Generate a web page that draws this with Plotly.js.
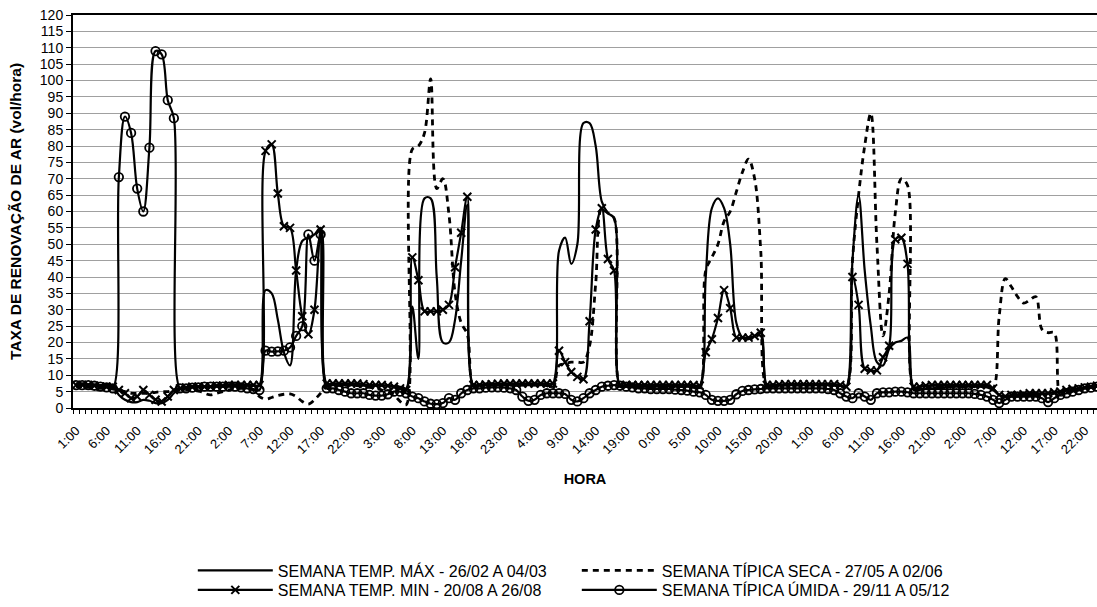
<!DOCTYPE html>
<html>
<head>
<meta charset="utf-8">
<script src="https://cdn.plot.ly/plotly-3.0.1.min.js"></script>
<style>html,body{margin:0;padding:0;background:#fff;}#chart{width:1097px;height:607px;}</style>
</head>
<body>
<div id="chart"></div>
<script>
// Hour-of-week tick labels (every 5 hours, starting at 1:00 of day 1)
const tickLabels = ['1:00','6:00','11:00','16:00','21:00','2:00','7:00','12:00','17:00','22:00',
  '3:00','8:00','13:00','18:00','23:00','4:00','9:00','14:00','19:00','0:00',
  '5:00','10:00','15:00','20:00','1:00','6:00','11:00','16:00','21:00','2:00',
  '7:00','12:00','17:00','22:00'];

const seriesNames = [
  'SEMANA TEMP. MÁX - 26/02 A 04/03',
  'SEMANA TÍPICA SECA - 27/05 A 02/06',
  'SEMANA TEMP. MIN - 20/08 A 26/08',
  'SEMANA TÍPICA ÚMIDA - 29/11 A 05/12'
];

// Hourly values (vol/hora), 7 days x 24 h
const tempMax = [
  7.5,7.5,7.3,7.2,7,7, 6.5,4,2.5,1.8,1.8,2.5, 2.2,1.5,1.5,2.5,4.5,6, 6.3,6.5,6.5,6.5,6.5,6.5,
  6.5,6.6,6.7,6.8,6.8,6.8, 7,36,35,27,17,13, 42,51,52,53,55,7, 7,7,7,7,7,6.8,
  6.8,6.8,6.8,6.8,6.7,6.5, 6,31,15,64,64,40, 20,20,27,45,62,6.5, 7,7,7,7,7,7,
  7,7,7,7,7,7, 6.5,48,52,44,50,87, 87,80,63,59.5,58,6.5, 6.5,6.5,6.5,6.5,6.5,6.5,
  6.5,6.5,6.5,6.5,6.5,6.5, 6.5,40,61,64,61,50, 26,21.5,21,22,22,6.5, 6.5,6.8,7,7,7,7,
  7,7,7,7,7,6.8, 6.5,45,65,42,25,14, 13,18,20,20.5,21.5,5.5, 5.5,5.8,6,6,6.2,6.5,
  6.5,6.5,6.5,6.5,6.5,6.3, 5.5,4,3.5,3.5,3.5,3.8, 4,4,4.2,4.5,4.8,5, 5.3,5.5,5.8,6,6.2,6.5
];
const tipicaSeca = [
  6.5,6.5,6.3,6.2,6,6, 5.8,5.5,5,4.5,4.5,4.5, 4.5,4.8,5,5,5.2,5.5, 5.5,5.5,5.3,4.5,4,4.5,
  5,5.5,5.8,6,6,5.5, 3.5,2.7,3.2,3.8,4.2,4.3, 3.5,2,1.2,2.5,4.5,6.5, 7,7,7,7,6.8,6.5,
  6.3,6,5.5,5,4,2, 1,79,80,84,100.5,67, 70,59,35,26,22.5,6.5, 7,7,7,7,7,7,
  7,7,7,7,7,6.8, 6,13,13.5,14,14,14, 19,38,61,59.5,58,6.5, 6.5,6.5,6.5,6.5,6.5,6.5,
  6.5,6.5,6.5,6.5,6.5,6.3, 6,42,46,50,57,60, 66,72,76,70,48,6.5, 6.8,7,7,7,7,7,
  7,7,7,7,7,6.8, 6.5,45,65,80,90,50, 22,35,59.5,70,68,6, 6,6.2,6.5,6.5,6.5,6.5,
  6.5,6.5,6.5,6.5,6.5,6.5, 6,28,39.5,37,34,32, 33,34,24,23,23,4, 4.5,5,5.5,6,6.2,6.5
];
const tempMin = [
  7,7,7,6.8,6.5,6.5, 6.5,5.5,4.5,3,3.5,5.5, 4,2.5,2,3.5,5.5,6, 6.3,6.5,6.5,6.5,6.5,6.8,
  6.8,7,7,7,7,7, 7,78.5,80.5,65.5,55.5,55, 42,28,22.5,30,54.5,7.5, 7.5,7.5,7.5,7.5,7.5,7.3,
  7,7,7,6.8,6.5,6, 5.5,46,39,29.5,29.5,29.5, 30,31.5,43,53.5,64.5,7, 7,7.2,7.3,7.4,7.5,7.5,
  7.5,7.5,7.5,7.5,7.5,7.5, 7.5,17.5,14,11,9.5,8.8, 26.5,54.5,61,45.5,42,7, 7,7,7,7,7,7,
  7,7,7,7,7,7, 6.8,17,21,27.5,36,30.5, 21.5,21.5,21.5,22,23,7, 7,7.2,7.3,7.3,7.3,7.3,
  7.3,7.3,7.3,7.3,7.3,7, 6.5,40,31.5,12,11.5,11.5, 15.5,19,51.5,52,44,6.5, 6.5,6.8,7,7,7,7,
  7,7,7,7,7,7, 6,4,3.5,4,4,4.2, 4.5,4.5,4.5,4.5,4.8,5, 5.5,5.8,6,6.3,6.5,6.8
];
const tipicaUmida = [
  7,7,7,6.8,6.5,6.3, 6,70.5,89,84,67,60, 79.5,109,108,94,88.5,6, 6,6.2,6.3,6.5,6.5,6.5,
  6.5,6.5,6.5,6.3,6,5.8, 5.5,17.5,17.2,17.3,17.5,18.5, 22,25,53,45,53,6, 6,5.5,5,4.5,4.5,4.5,
  4,3.8,3.8,4.2,5,5, 4.5,3.5,3,2,1.3,1.2, 1.5,3,2.5,4.5,5.5,6, 6,6.2,6.3,6.3,6.2,6,
  5.5,3.5,2.2,2.5,4,4.5, 4.5,4.5,4.3,2.5,2,3, 4.5,5.5,6.5,6.8,7,6.8, 6.5,6.3,6,6,5.8,5.8,
  5.8,5.8,5.6,5.5,5.3,5, 4.8,4,2.5,2.2,2.2,2.5, 4.2,5.2,5.5,5.7,5.8,6, 6,6,6,6,6,6,
  6,6,6,5.8,5.5,4.5, 3.5,3,4.5,3.5,2.5,4.5, 4.8,4.8,5,5,4.8,4.5, 4.5,4.5,4.5,4.5,4.5,4.5,
  4.5,4.5,4.5,4.3,4,3.5, 2.5,1.5,2.5,3.5,3.5,3.5, 3.5,3.5,3,1.8,3,4, 4.5,5,5.5,6,6.2,6.5
];

const hourIndex = tempMax.map((_, i) => i);
const tickPositions = tickLabels.map((_, i) => i * 5);

const FONT = 'Liberation Sans, Arial, sans-serif';

const traces = [
  {x: hourIndex, y: tempMax, name: seriesNames[0], type: 'scatter', mode: 'lines',
   line: {color: '#000', width: 2.2, shape: 'spline', smoothing: 1}, legend: 'legend'},
  {x: hourIndex, y: tipicaSeca, name: seriesNames[1], type: 'scatter', mode: 'lines',
   line: {color: '#000', width: 2.8, dash: '6px,5px', shape: 'spline', smoothing: 1}, legend: 'legend'},
  {x: hourIndex, y: tempMin, name: seriesNames[2], type: 'scatter', mode: 'lines+markers',
   line: {color: '#000', width: 2.2, shape: 'spline', smoothing: 1},
   marker: {symbol: 'x-thin-open', size: 8, color: '#000', line: {color: '#000', width: 2}}, legend: 'legend2'},
  {x: hourIndex, y: tipicaUmida, name: seriesNames[3], type: 'scatter', mode: 'lines+markers',
   line: {color: '#000', width: 2.2, shape: 'spline', smoothing: 1},
   marker: {symbol: 'circle-open', size: 8.5, color: '#000', line: {color: '#000', width: 1.8}}, legend: 'legend2'}
];

const legendCommon = {
  orientation: 'h', xanchor: 'left', yanchor: 'middle', x: 0.117,
  itemwidth: 75, entrywidth: 294, entrywidthmode: 'pixels',
  font: {family: FONT, size: 16, color: '#000'}, bgcolor: 'rgba(0,0,0,0)', borderwidth: 0,
  traceorder: 'normal'
};

const layout = {
  width: 1097, height: 607,
  margin: {l: 73, r: 0, t: 15, b: 198, pad: 0},
  paper_bgcolor: '#fff', plot_bgcolor: '#fff',
  font: {family: FONT, color: '#000'},
  showlegend: true,
  legend: Object.assign({}, legendCommon, {y: -0.410}),
  legend2: Object.assign({}, legendCommon, {y: -0.462}),
  xaxis: {
    range: [-0.5, 167], tickmode: 'array', tickvals: tickPositions, ticktext: tickLabels,
    tickangle: -45, ticks: 'outside', ticklen: 8, tickcolor: 'rgba(0,0,0,0)',
    tickfont: {family: FONT, size: 13, color: '#000'},
    minor: {tickmode: 'linear', tick0: -0.5, dtick: 1, ticks: 'outside', ticklen: 4, tickcolor: '#000', tickwidth: 1, showgrid: false},
    showline: true, linecolor: '#000', linewidth: 2, mirror: true,
    showgrid: false, zeroline: false, fixedrange: true,
    title: {text: 'HORA', font: {family: FONT, size: 14.5, weight: 'bold', color: '#000'}, standoff: 18}
  },
  yaxis: {
    range: [0, 120], tickmode: 'linear', tick0: 0, dtick: 5,
    ticks: 'outside', ticklen: 5, tickcolor: '#000', tickwidth: 1,
    tickfont: {family: FONT, size: 14, color: '#000'},
    showline: true, linecolor: '#000', linewidth: 2,
    showgrid: true, gridcolor: '#a0a0a0', gridwidth: 1, zeroline: false, fixedrange: true,
    title: {text: 'TAXA DE RENOVAÇÃO DE AR (vol/hora)', font: {family: FONT, size: 15.5, weight: 'bold', color: '#000'}, standoff: 14}
  }
};

Plotly.newPlot('chart', traces, layout, {displayModeBar: false, staticPlot: true});
</script>
</body>
</html>
